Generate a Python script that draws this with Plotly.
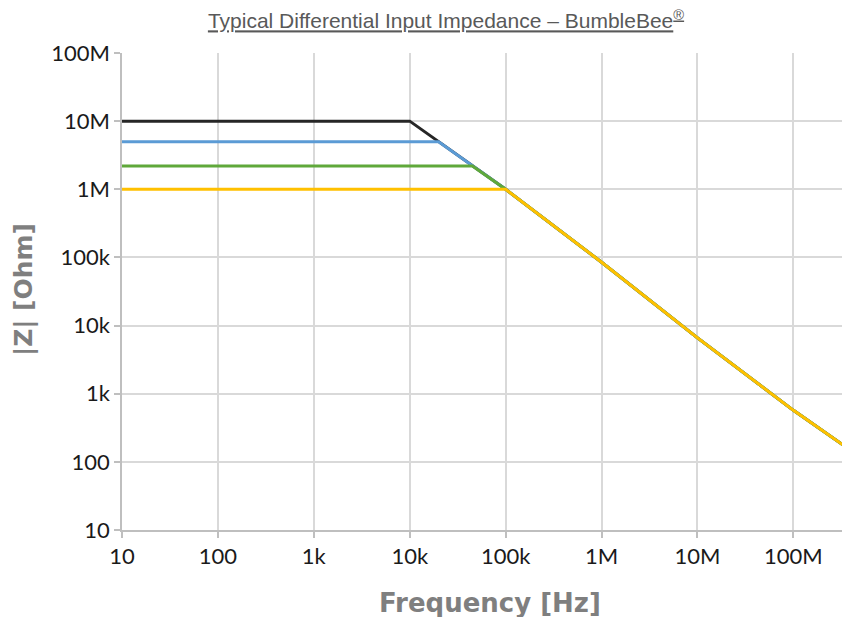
import plotly.graph_objects as go

# Tick labels
x_tickvals = [1e1, 1e2, 1e3, 1e4, 1e5, 1e6, 1e7, 1e8]
x_ticktext = ["10", "100", "1k", "10k", "100k", "1M", "10M", "100M"]
y_tickvals = [1e1, 1e2, 1e3, 1e4, 1e5, 1e6, 1e7, 1e8]
y_ticktext = ["10", "100", "1k", "10k", "100k", "1M", "10M", "100M"]

# Shared roll-off (high-frequency) part of the impedance curves
freq_rolloff = [1e5, 1e6, 1e7, 1e8, 3.9e8]
z_rolloff = [1e6, 8.5e4, 6.6e3, 570, 150]

# Series: flat impedance level and corner frequency
series_names = ["10 MΩ", "5 MΩ", "2.2 MΩ", "1 MΩ"]
series_flat_z = [1e7, 5e6, 2.2e6, 1e6]
series_corner_f = [1e4, 2e4, 4.5e4, 1e5]
series_colors = ["#262626", "#5b9bd5", "#5fa83a", "#ffc000"]
f_start = 10

fig = go.Figure()
for name, zf, fc, col in zip(series_names, series_flat_z, series_corner_f, series_colors):
    xs = [f_start, fc]
    ys = [zf, zf]
    for f, z in zip(freq_rolloff, z_rolloff):
        if f > fc:
            xs.append(f)
            ys.append(z)
    fig.add_trace(go.Scatter(x=xs, y=ys, mode="lines", name=name,
                             line=dict(color=col, width=3), showlegend=False))

axis_common = dict(
    type="log",
    showgrid=True, gridcolor="#d9d9d9", gridwidth=1.5,
    showline=True, linecolor="#bfbfbf", linewidth=1.5,
    ticks="outside", ticklen=6, tickcolor="#bfbfbf", tickwidth=1.5,
    tickfont=dict(family="Lato", size=22, color="#1a1a1a"),
    zeroline=False,
)

fig.update_xaxes(range=[1, 8.59], tickvals=x_tickvals, ticktext=x_ticktext, **axis_common)
fig.update_yaxes(range=[1, 8], tickvals=y_tickvals, ticktext=y_ticktext, **axis_common)

W, H = 842, 609
L, T, B = 114, 45, 87
PW, PH = W - L, H - T - B

fig.update_layout(
    width=W, height=H,
    margin=dict(l=L, r=0, t=T, b=B),
    paper_bgcolor="white", plot_bgcolor="white",
    title=dict(text="<u>Typical Differential Input Impedance – BumbleBee<sup>®</sup></u>",
               x=438/W, xanchor="center", y=1-13/H, yanchor="middle",
               font=dict(family="Liberation Sans", size=21, color="#595959")),
    annotations=[
        dict(text="<b>Frequency [Hz]</b>", xref="paper", yref="paper",
             x=(482-L)/PW, y=-(595-(T+PH))/PH, xanchor="center", yanchor="middle",
             showarrow=False, font=dict(family="DejaVu Sans", size=26, color="#7f7f7f")),
        dict(text="<b>|Z| [Ohm]</b>", xref="paper", yref="paper",
             x=(15-L)/PW, y=((T+PH)-282)/PH, xanchor="center", yanchor="middle",
             textangle=-90,
             showarrow=False, font=dict(family="DejaVu Sans", size=25, color="#7f7f7f")),
    ],
)

fig.write_html("out.html")
